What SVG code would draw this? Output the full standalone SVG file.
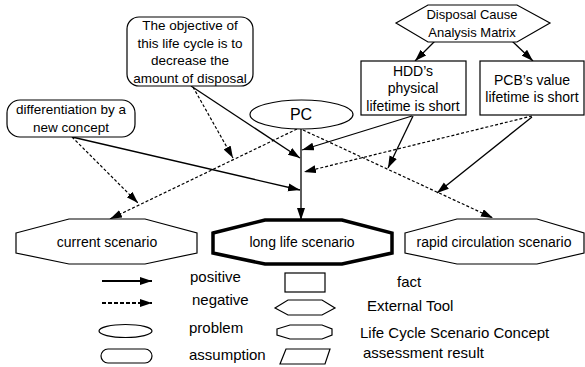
<svg xmlns="http://www.w3.org/2000/svg" width="585" height="367" viewBox="0 0 585 367">
<defs>
<marker id="ah" markerUnits="userSpaceOnUse" markerWidth="14" markerHeight="10" refX="12" refY="4" orient="auto"><path d="M0,0 L12,4 L0,8 z" fill="#000"/></marker>
<style>
.n{fill:#fff;stroke:#000;stroke-width:1.2}
.t{font-family:"Liberation Sans",Arial,sans-serif;font-size:14px;fill:#000;text-anchor:middle}
.l{font-family:"Liberation Sans",Arial,sans-serif;font-size:15px;fill:#000}
.s{stroke:#000;stroke-width:1.3;fill:none;marker-end:url(#ah)}
.d{stroke:#000;stroke-width:1.2;fill:none;stroke-dasharray:3 2;marker-end:url(#ah)}
</style>
</defs>
<rect width="585" height="367" fill="#fff"/>
<g id="connectors">
<line class="s" x1="301" y1="129" x2="301" y2="220" style="stroke:#333;stroke-width:1.6"/>
<line class="s" x1="191" y1="86" x2="300" y2="158"/>
<line class="d" x1="193" y1="87" x2="233" y2="158"/>
<line class="s" x1="72" y1="137" x2="300" y2="190"/>
<line class="d" x1="72" y1="137" x2="138" y2="203"/>
<line class="d" x1="297" y1="129" x2="110" y2="219"/>
<line class="d" x1="303" y1="130" x2="493" y2="218"/>
<line class="s" x1="412" y1="116" x2="302" y2="150"/>
<line class="s" x1="413" y1="116" x2="388" y2="168"/>
<line class="d" x1="532" y1="116" x2="304" y2="172"/>
<line class="s" x1="532" y1="117" x2="437" y2="193"/>
<line class="s" x1="435" y1="41" x2="415" y2="61"/>
<line class="s" x1="512" y1="41" x2="533" y2="61"/>
</g>
<g id="objective">
<rect class="n" x="127" y="17" width="126" height="69" rx="12"/>
<text class="t" style="font-size:13.5px" x="190" y="30">The objective of</text>
<text class="t" style="font-size:13.5px" x="190" y="47.5">this life cycle is to</text>
<text class="t" style="font-size:13.5px" x="190" y="65">decrease the</text>
<text class="t" style="font-size:13.5px" x="190" y="82.5">amount of disposal</text>
</g>
<g id="differentiation">
<rect class="n" x="7" y="100" width="128" height="37" rx="13"/>
<text class="t" style="font-size:13.5px" x="71" y="114">differentiation by a</text>
<text class="t" style="font-size:13.5px" x="71" y="132">new concept</text>
</g>
<g id="pc">
<ellipse class="n" cx="301.5" cy="114.5" rx="51.5" ry="14.5"/>
<text class="t" style="font-size:16px" x="301" y="120">PC</text>
</g>
<g id="matrix">
<polygon class="n" points="396,23 428,5 517,5 550,23 517,42 428,42"/>
<text class="t" style="font-size:13px" x="472" y="19">Disposal Cause</text>
<text class="t" style="font-size:13px" x="472" y="37">Analysis Matrix</text>
</g>
<g id="hdd">
<rect class="n" x="361" y="61" width="105" height="54"/>
<text class="t" x="413" y="76">HDD’s</text>
<text class="t" x="413" y="93">physical</text>
<text class="t" x="413" y="111">lifetime is short</text>
</g>
<g id="pcb">
<rect class="n" x="480" y="61" width="104" height="54"/>
<text class="t" x="532" y="85">PCB’s value</text>
<text class="t" x="532" y="102">lifetime is short</text>
</g>
<g id="current">
<polygon class="n" points="16,233 69,219 145,219 197,233 197,253 145,264 69,264 16,253"/>
<text class="t" x="107" y="247">current scenario</text>
</g>
<g id="longlife">
<polygon class="n" style="stroke-width:3.5" points="213,233 265,220 342,220 392,233 392,253 342,264 265,264 213,253"/>
<text class="t" x="302" y="247">long life scenario</text>
</g>
<g id="rapid">
<polygon class="n" points="405,233 457,219 537,219 584,233 584,253 537,264 457,264 405,253"/>
<text class="t" x="494" y="247">rapid circulation scenario</text>
</g>
<g id="legend">
<line x1="102" y1="281" x2="152" y2="281" stroke="#000" stroke-width="2" marker-end="url(#ah)"/>
<text class="l" x="190" y="282">positive</text>
<line x1="102" y1="303" x2="152" y2="303" stroke="#000" stroke-width="2" stroke-dasharray="4 2" marker-end="url(#ah)"/>
<text class="l" x="192" y="305">negative</text>
<ellipse class="n" cx="125.5" cy="331" rx="26.5" ry="6.5"/>
<text class="l" x="189" y="333">problem</text>
<rect class="n" x="101" y="349" width="51" height="14" rx="7"/>
<text class="l" x="189" y="360">assumption</text>
<rect class="n" x="285" y="273" width="40" height="19"/>
<text class="l" x="397" y="287">fact</text>
<polygon class="n" points="275,308 288,300 322,300 335,308 322,315 288,315"/>
<text class="l" x="367" y="311">External Tool</text>
<polygon class="n" points="277,329 290,325 322,325 332,329 332,335 322,339 290,339 277,335"/>
<text class="l" x="360" y="338">Life Cycle Scenario Concept</text>
<polygon class="n" points="286,349 330,349 325,364 280,364"/>
<text class="l" x="363" y="358">assessment result</text>
</g>
</svg>
